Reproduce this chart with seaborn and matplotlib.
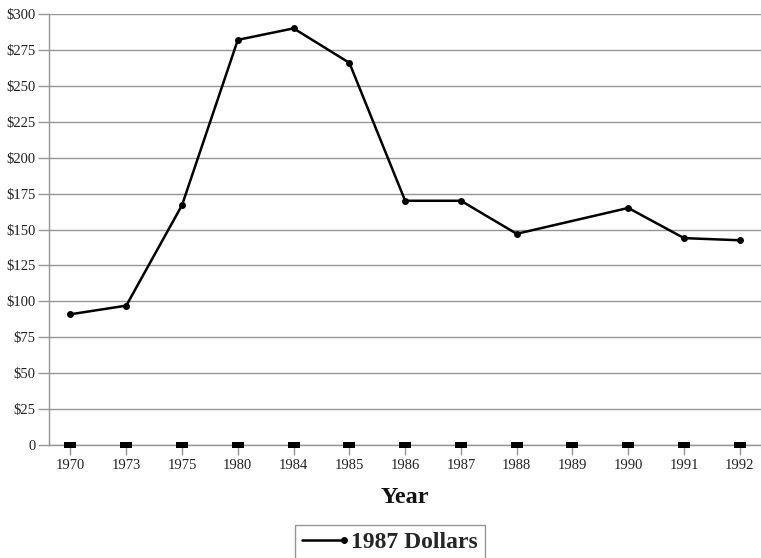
import numpy as np
import pandas as pd
import matplotlib
matplotlib.use("Agg")
import matplotlib.pyplot as plt
from matplotlib.lines import Line2D
from matplotlib.legend_handler import HandlerLine2D
import seaborn as sns

# Spending per year, in 1987 dollars (no figure reported for 1989)
years = ["1970", "1973", "1975", "1980", "1984", "1985", "1986",
         "1987", "1988", "1989", "1990", "1991", "1992"]
dollars_1987 = [91, 97, 167, 282, 290, 266, 170, 170, 147, np.nan, 165, 144, 142.5]
baseline = [0] * len(years)

y_ticks = [0, 25, 50, 75, 100, 125, 150, 175, 200, 225, 250, 275, 300]
y_tick_labels = ["0"] + [f"${v}" for v in y_ticks[1:]]
series_label = "1987 Dollars"
x_title = "Year"

df = pd.DataFrame({
    "year": years,
    "pos": np.arange(len(years)),
    "value": dollars_1987,
    "base": baseline,
})

sns.set_theme(style="white")
plt.rcParams["font.family"] = ["Liberation Serif", "DejaVu Serif"]

fig = plt.figure(figsize=(7.61, 5.58), dpi=100)
ax = fig.add_axes([49.3 / 761, 1 - 445 / 558, 1 - 49.3 / 761, (445 - 14) / 558])

grid_col = "#959595"
ax.set_ylim(0, 300)
ax.set_xlim(-0.38, len(years) - 1 + 0.38)
ax.set_yticks(y_ticks)
ax.set_yticklabels(y_tick_labels, fontsize=10.5)
ax.set_xticks(df["pos"])
ax.set_xticklabels(df["year"], fontsize=10.5)
ax.yaxis.grid(True, color=grid_col, linewidth=1.0)
ax.set_axisbelow(True)

for side in ["top", "right"]:
    ax.spines[side].set_visible(False)
for side in ["left", "bottom"]:
    ax.spines[side].set_color(grid_col)
    ax.spines[side].set_linewidth(1.0)

ax.tick_params(axis="y", direction="out", length=8, width=1, color=grid_col,
               pad=2, left=True, labelcolor="#222222")
ax.tick_params(axis="x", direction="out", length=7, width=1, color=grid_col,
               pad=3, bottom=True, labelcolor="#222222")

# Main series: line with round markers
sns.lineplot(data=df, x="pos", y="value", ax=ax, color="black", linewidth=1.8,
             marker="o", markersize=5, markeredgewidth=0, label=series_label,
             legend=False, zorder=3)

# Flat rectangular markers sitting on the zero line
rect = [(-1, -0.42), (1, -0.42), (1, 0.42), (-1, 0.42), (-1, -0.42)]
sns.scatterplot(data=df, x="pos", y="base", ax=ax, marker=rect, s=75,
                color="black", linewidth=0, legend=False, clip_on=False, zorder=4)

ax.set_xlabel(x_title, fontsize=17.5, fontweight="bold", labelpad=11, color="#111111")
ax.set_ylabel("")


class EndDotHandler(HandlerLine2D):
    """Legend entry drawn as a line with its marker at the right end."""

    def create_artists(self, legend, orig_handle, xdescent, ydescent,
                       width, height, fontsize, trans):
        artists = super().create_artists(legend, orig_handle, xdescent, ydescent,
                                         width, height, fontsize, trans)
        for a in artists:
            a.set_markevery([2])
        return artists


handle = Line2D([], [], color="black", linewidth=1.8, marker="o",
                markersize=5, markeredgewidth=0)
leg = fig.legend(handles=[handle], labels=[series_label],
                 handler_map={Line2D: EndDotHandler(numpoints=1)},
                 loc="lower center", bbox_to_anchor=(390 / 761, -0.004),
                 prop={"size": 17, "weight": "bold"}, frameon=True,
                 fancybox=False, framealpha=1, edgecolor=grid_col,
                 handlelength=1.75, handletextpad=0.3, borderpad=0.3,
                 borderaxespad=0)
leg.get_frame().set_linewidth(1.0)

fig.savefig("out.png", dpi=100)
